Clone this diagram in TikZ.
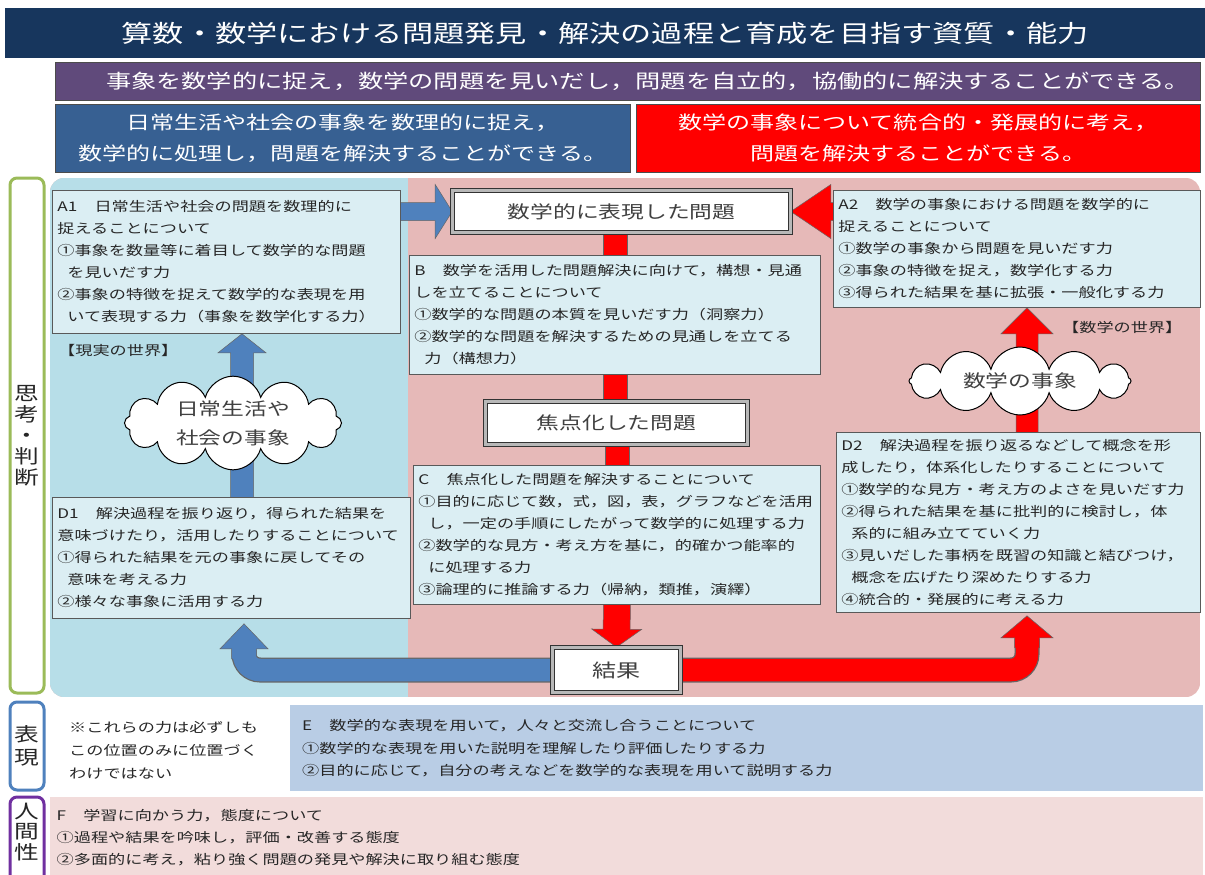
\documentclass[tikz,border=0pt]{standalone}
\usepackage{fontspec}
\setmainfont{Noto Sans CJK JP}[FakeStretch=1.3]
\usetikzlibrary{calc,shapes.symbols}
\definecolor{navy}{HTML}{17365D}
\definecolor{purp}{HTML}{604A7B}
\definecolor{bluebox}{HTML}{376092}
\definecolor{areablue}{HTML}{B7DEE8}
\definecolor{areapink}{HTML}{E6B9B8}
\definecolor{boxfill}{HTML}{DBEEF3}
\definecolor{arrblue}{HTML}{4F81BD}
\definecolor{eboxcol}{HTML}{B9CDE5}
\definecolor{fboxcol}{HTML}{F2DCDB}
\definecolor{lgreen}{HTML}{9BBB59}
\definecolor{lblue}{HTML}{4F81BD}
\definecolor{lpurple}{HTML}{7030A0}
\definecolor{txt}{HTML}{262626}
\pgfdeclarelayer{bg}
\pgfdeclarelayer{arr}
\pgfsetlayers{bg,arr,main}
% block arrow: start, tip, shaft half, head half, head length, colour
\newcommand\blockarrow[6]{%
  \coordinate (bas) at (#1);
  \coordinate (bat) at (#2);
  \coordinate (bab) at ($(bat)!#5!(bas)$);
  \filldraw[arrline, fill=#6]
    ($(bas)!#3!90:(bat)$) -- ($(bab)!#3!90:(bat)$) -- ($(bab)!#4!90:(bat)$) --
    (bat) -- ($(bab)!#4!-90:(bat)$) -- ($(bab)!#3!-90:(bat)$) --
    ($(bas)!#3!-90:(bat)$) -- cycle;
}
\tikzset{
  tbox/.style={draw=black!65, line width=0.8pt, fill=boxfill, text=txt,
    font=\fontsize{13.2}{22}\selectfont, align=left, anchor=north west,
    inner xsep=5pt, inner ysep=2pt},
  procbox/.style={draw=black!80, double=black!28, double distance=3.5pt,
    line width=0.6pt, fill=white, text=black!75, inner sep=0pt,
    font=\fontsize{17.5}{20}\selectfont},
  arrline/.style={draw=black!60, line width=0.5pt},
  lab/.style={draw, line width=3pt, rounded corners=7pt, fill=white,
    inner sep=0pt, align=center, text=txt},
  cloudbox/.style={cloud, cloud ignores aspect, draw=black, line width=1pt,
    fill=white, align=center, text=black!75, inner sep=0pt,
    font=\fontsize{17.5}{29}\selectfont},
  world/.style={text=txt, font=\fontsize{13.2}{16}\selectfont, inner sep=0pt, anchor=west},
  bandbox/.style={anchor=north west, inner sep=0pt, draw=black!70, line width=0.8pt,
    text=white, align=center}
}
\begin{document}
\begin{tikzpicture}[x=1pt,y=-1pt]
\useasboundingbox (0,0) rectangle (1205,875);

% ---------- header bands ----------
\node[fill=navy, anchor=north west, minimum width=1200pt, minimum height=50pt,
  inner sep=0pt, text=white, font=\fontsize{24}{28}\selectfont] (title) at (5,8)
  {算数・数学における問題発見・解決の過程と育成を目指す資質・能力};
\node[bandbox, fill=purp, minimum width=1145pt, minimum height=38pt] (goal) at (55,62) {};
\node[text=white, font=\fontsize{19.4}{22}\selectfont, inner sep=0pt] (goaltxt) at (648,81)
  {事象を数学的に捉え，数学の問題を見いだし，問題を自立的，協働的に解決することができる。};
\node[bandbox, fill=bluebox, minimum width=575pt, minimum height=68pt,
  font=\fontsize{18.5}{31}\selectfont] (gblue) at (55,104)
  {日常生活や社会の事象を数理的に捉え，\\数学的に処理し，問題を解決することができる。};
\node[bandbox, fill=red, minimum width=564pt, minimum height=68pt,
  font=\fontsize{18.5}{31}\selectfont] (gred) at (636,104)
  {数学の事象について統合的・発展的に考え，\\問題を解決することができる。};

% ---------- side labels ----------
\node[lab, draw=lgreen, minimum width=34pt, minimum height=515pt,
  font=\fontsize{19}{21}\selectfont] (L1) at (27,435.5) {思\\考\\・\\判\\断};
\node[lab, draw=lblue, minimum width=34pt, minimum height=88pt,
  font=\fontsize{19}{23}\selectfont] (L2) at (27,746) {表\\現};
\node[lab, draw=lpurple, minimum width=34pt, minimum height=93pt,
  font=\fontsize{19}{20.5}\selectfont] (L3) at (27,843.5) {人\\間\\性\\[4pt]};

% ---------- background areas ----------
\begin{pgfonlayer}{bg}
  \begin{scope}
    \clip[rounded corners=14pt] (50,178) rectangle (1200,697);
    \fill[areapink] (50,178) rectangle (1200,697);
    \fill[areablue] (50,178) rectangle (408,697);
  \end{scope}
\end{pgfonlayer}

% ---------- text boxes ----------
\node[tbox, text width=338pt, minimum height=143pt] (A1) at (52,190)
  {A1　日常生活や社会の問題を数理的に\\
   捉えることについて\\
   ①事象を数量等に着目して数学的な問題\\
   \hspace*{10pt}を見いだす力\\
   ②事象の特徴を捉えて数学的な表現を用\\
   \hspace*{10pt}いて表現する力（事象を数学化する力）};
\node[tbox, text width=357pt, minimum height=117pt] (A2) at (833,190)
  {A2　数学の事象における問題を数学的に\\
   捉えることについて\\
   ①数学の事象から問題を見いだす力\\
   ②事象の特徴を捉え，数学化する力\\
   ③得られた結果を基に拡張・一般化する力};
\node[tbox, text width=401pt, minimum height=119pt] (B) at (409,255)
  {B　数学を活用した問題解決に向けて，構想・見通\\
   しを立てることについて\\
   ①数学的な問題の本質を見いだす力（洞察力）\\
   ②数学的な問題を解決するための見通しを立てる\\
   \hspace*{10pt}力（構想力）};
\node[tbox, text width=397pt, minimum height=139pt] (C) at (413,465)
  {C　焦点化した問題を解決することについて\\
   ①目的に応じて数，式，図，表，グラフなどを活用\\
   \hspace*{10pt}し，一定の手順にしたがって数学的に処理する力\\
   ②数学的な見方・考え方を基に，的確かつ能率的\\
   \hspace*{10pt}に処理する力\\
   ③論理的に推論する力（帰納，類推，演繹）};
\node[tbox, text width=348pt, minimum height=121pt] (D1) at (52,497)
  {D1　解決過程を振り返り，得られた結果を\\
   意味づけたり，活用したりすることについて\\
   ①得られた結果を元の事象に戻してその\\
   \hspace*{10pt}意味を考える力\\
   ②様々な事象に活用する力};
\node[tbox, text width=354pt, minimum height=180pt] (D2) at (836,432)
  {D2　解決過程を振り返るなどして概念を形\\
   成したり，体系化したりすることについて\\
   ①数学的な見方・考え方のよさを見いだす力\\
   ②得られた結果を基に批判的に検討し，体\\
   \hspace*{10pt}系的に組み立てていく力\\
   ③見いだした事柄を既習の知識と結びつけ，\\
   \hspace*{10pt}概念を広げたり深めたりする力\\
   ④統合的・発展的に考える力};

% ---------- process boxes ----------
\node[procbox, minimum width=338pt, minimum height=42pt] (P1) at (621.5,211.5) {数学的に表現した問題};
\node[procbox, minimum width=262pt, minimum height=43pt] (P2) at (616.5,423) {焦点化した問題};
\node[procbox, minimum width=128pt, minimum height=45pt,
  font=\fontsize{18.5}{20}\selectfont] (K) at (616.5,670) {結果};

% ---------- clouds ----------
\node[cloudbox, minimum width=217pt, minimum height=87pt, cloud puffs=12] (cl1) at (233,423) {日常生活や\\社会の事象};
\node[cloudbox, minimum width=222pt, minimum height=68pt, cloud puffs=12] (cl2) at (1020,381) {数学の事象};

% ---------- world labels ----------
\node[world] (w1) at (58,350) {【現実の世界】};
\node[world] (w2) at (1062,327) {【数学の世界】};

% ---------- bottom rows ----------
\node[anchor=north west, fill=eboxcol, minimum width=913pt, minimum height=86pt,
  text width=889pt, inner xsep=12pt, inner ysep=0pt, align=left, text=txt,
  font=\fontsize{13.2}{22.5}\selectfont] (E) at (290,705)
  {E　数学的な表現を用いて，人々と交流し合うことについて\\
   ①数学的な表現を用いた説明を理解したり評価したりする力\\
   ②目的に応じて，自分の考えなどを数学的な表現を用いて説明する力};
\node[anchor=west, inner sep=0pt, align=left, text=txt,
  font=\fontsize{13.2}{23}\selectfont] (note) at (69,750)
  {※これらの力は必ずしも\\この位置のみに位置づく\\わけではない};
\node[anchor=north west, fill=fboxcol, minimum width=1153pt, minimum height=80pt,
  text width=1140pt, inner xsep=6.5pt, inner ysep=0pt, align=left, text=txt,
  font=\fontsize{13.2}{22}\selectfont] (F) at (50,797)
  {F　学習に向かう力，態度について\\
   ①過程や結果を吟味し，評価・改善する態度\\
   ②多面的に考え，粘り強く問題の発見や解決に取り組む態度};

% ---------- arrows and connectors ----------
\begin{pgfonlayer}{arr}
  \coordinate (bu) at (242,0);
  \coordinate (ru) at (1027,0);
  \coordinate (bl) at (244,0);
  \coordinate (rl) at (1027,0);
  % horizontal arrows into P1
  \blockarrow{$(A1.east |- P1.west)+(-10,0)$}{P1.west}{9pt}{27pt}{17pt}{arrblue}
  \blockarrow{$(A2.west |- P1.east)+(10,0)$}{P1.east}{9pt}{27pt}{40pt}{red}
  % vertical up arrows
  \blockarrow{$(D1.north -| bu)+(0,5)$}{A1.south -| bu}{11.5pt}{24pt}{19pt}{arrblue}
  \blockarrow{$(D2.north -| ru)+(0,5)$}{A2.south -| ru}{11pt}{26pt}{26pt}{red}
  % red connectors
  \filldraw[arrline, fill=red] ($(B.north)+(-12,3)$) rectangle ($(B.north |- P1.south)+(12,-3)$);
  \filldraw[arrline, fill=red] ($(B.south)+(-12,-3)$) rectangle ($(B.south |- P2.north)+(12,3)$);
  \filldraw[arrline, fill=red] ($(C.north)+(-12,3)$) rectangle ($(C.north |- P2.south)+(12,-3)$);
  % C to result
  \blockarrow{$(C.south)+(0,-3)$}{K.north}{13.5pt}{25pt}{18pt}{red}
  % blue L arrow
  \draw[line width=25pt, black!60, rounded corners=16pt]
    (K.west) -- (K.west -| bl) -- ($(D1.south -| bl)+(0,31)$);
  \blockarrow{$(D1.south -| bl)+(0,40)$}{$(D1.south -| bl)+(0,5)$}{12.5pt}{24pt}{25pt}{arrblue}
  \draw[line width=22.5pt, arrblue, rounded corners=16pt]
    (K.west) -- (K.west -| bl) -- ($(D1.south -| bl)+(0,28)$);
  % red L arrow
  \draw[line width=25pt, black!60, rounded corners=16pt]
    (K.east) -- (K.east -| rl) -- ($(D2.south -| rl)+(0,26)$);
  \blockarrow{$(D2.south -| rl)+(0,35)$}{$(D2.south -| rl)+(0,3)$}{12.5pt}{26pt}{22pt}{red}
  \draw[line width=22.5pt, red, rounded corners=16pt]
    (K.east) -- (K.east -| rl) -- ($(D2.south -| rl)+(0,23)$);
\end{pgfonlayer}
\end{tikzpicture}
\end{document}
